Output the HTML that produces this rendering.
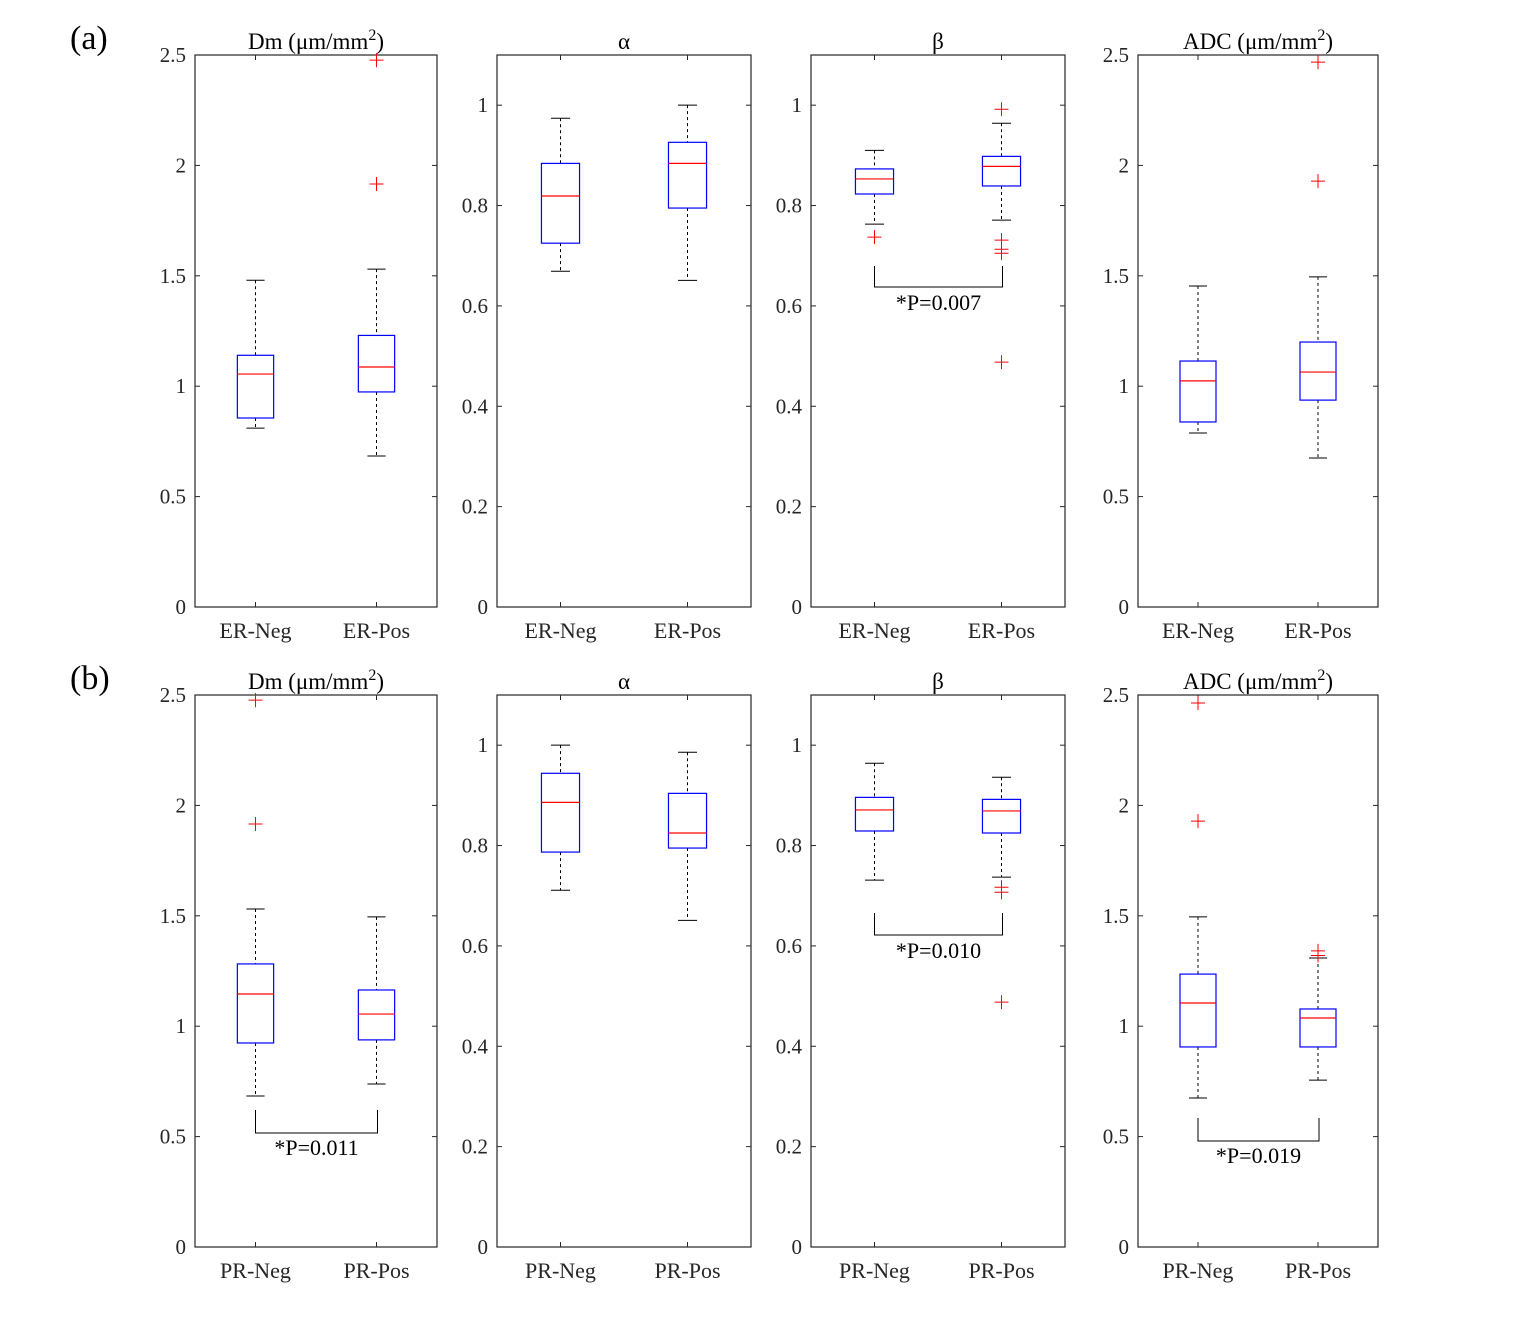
<!DOCTYPE html>
<html><head><meta charset="utf-8"><style>
html,body{margin:0;padding:0;background:#fff;}
svg{display:block;font-family:"Liberation Serif",serif;}
</style></head><body>
<svg id="fig" width="1525" height="1322" viewBox="0 0 1525 1322">
<text x="70" y="49" font-size="34">(a)</text>
<text x="70" y="689" font-size="34">(b)</text>
</svg>
<script>
// Data arrays: [whiskerLow, q1, median, q3, whiskerHigh]
const rowA_cats = ["ER-Neg","ER-Pos"];
const rowB_cats = ["PR-Neg","PR-Pos"];
const titles = ["Dm","α","β","ADC"];
const dmTicks = [0,0.5,1,1.5,2,2.5];
const abTicks = [0,0.2,0.4,0.6,0.8,1];
const a_dm = [[0.81,0.856,1.055,1.14,1.48],[0.684,0.974,1.087,1.23,1.53]];
const a_dm_out = [[],[1.916,2.477]];
const a_alpha = [[0.669,0.725,0.819,0.884,0.974],[0.651,0.795,0.884,0.926,1.0]];
const a_alpha_out = [[],[]];
const a_beta = [[0.763,0.823,0.853,0.873,0.910],[0.771,0.839,0.878,0.898,0.964]];
const a_beta_out = [[0.737],[0.992,0.731,0.713,0.705,0.488]];
const a_adc = [[0.788,0.838,1.024,1.114,1.454],[0.675,0.937,1.064,1.2,1.495]];
const a_adc_out = [[],[1.929,2.468]];
const b_dm = [[0.684,0.924,1.146,1.282,1.531],[0.738,0.938,1.055,1.164,1.495]];
const b_dm_out = [[1.916,2.477],[]];
const b_alpha = [[0.711,0.787,0.886,0.944,1.0],[0.651,0.795,0.825,0.904,0.986]];
const b_alpha_out = [[],[]];
const b_beta = [[0.731,0.829,0.871,0.896,0.964],[0.737,0.825,0.869,0.892,0.936]];
const b_beta_out = [[],[0.717,0.707,0.488]];
const b_adc = [[0.675,0.906,1.105,1.236,1.495],[0.756,0.906,1.037,1.078,1.309]];
const b_adc_out = [[1.929,2.464],[1.341,1.32]];
const pvals = {a2:"*P=0.007", b0:"*P=0.011", b2:"*P=0.010", b3:"*P=0.019"};

const svg = document.getElementById('fig');
const NS = "http://www.w3.org/2000/svg";
function el(tag, attrs, parent){const e=document.createElementNS(NS,tag);for(const k in attrs)e.setAttribute(k,attrs[k]);(parent||svg).appendChild(e);return e;}

const panelsX = [[195,437],[497,751],[811,1065],[1138,1378]];
const rowsY = [[55,607],[695,1247]];
const rowsData = [[a_dm,a_alpha,a_beta,a_adc],[b_dm,b_alpha,b_beta,b_adc]];
const rowsOut = [[a_dm_out,a_alpha_out,a_beta_out,a_adc_out],[b_dm_out,b_alpha_out,b_beta_out,b_adc_out]];
const rowsCats = [rowA_cats,rowB_cats];

for(let r=0;r<2;r++){
  for(let p=0;p<4;p++){
    const [x0,x1]=panelsX[p],[y0,y1]=rowsY[r];
    const ymax = (p==0||p==3)?2.5:1.1;
    const ticks = (p==0||p==3)?dmTicks:abTicks;
    const ys = v=>y1-(y1-y0)*v/ymax;
    const xs = c=>x0+(x1-x0)*(c+0.5)/2;
    const g = el('g',{});
    
    
    const frame=el('rect',{x:x0,y:y0,width:x1-x0,height:y1-y0,fill:'none',stroke:'#262626','stroke-width':1.2},g);
    
    
    ticks.forEach(t=>{
      const y=ys(t);
      el('line',{x1:x0,x2:x0+5,y1:y,y2:y,stroke:'#262626'},g);
      el('line',{x1:x1,x2:x1-5,y1:y,y2:y,stroke:'#262626'},g);
      const tl=el('text',{x:x0-9,y:y+7,'font-size':21,'text-anchor':'end',fill:'#262626'},g);
      tl.textContent=String(t);
      
      
    });
    const tt=el('text',{x:(x0+x1)/2,y:y0-6,'font-size':23,'text-anchor':'middle',fill:'#000'},g);
    
    
    if(p==0||p==3){
      tt.innerHTML=titles[p]+' (μm/mm<tspan dy="-9" font-size="16">2</tspan><tspan dy="9">)</tspan>';
    } else tt.textContent=titles[p];
    const data=rowsData[r][p], outs=rowsOut[r][p];
    for(let c=0;c<2;c++){
      const cx=xs(c);
      el('line',{x1:cx,x2:cx,y1:y1,y2:y1-5,stroke:'#262626'},g);
      el('line',{x1:cx,x2:cx,y1:y0,y2:y0+5,stroke:'#262626'},g);
      const cl=el('text',{x:cx,y:y1+31,'font-size':22,'text-anchor':'middle',fill:'#262626'},g);
      cl.textContent=rowsCats[r][c];
      
      
      const [lo,q1,md,q3,hi]=data[c];
      const hw=(x1-x0)/2*0.15, cw=hw/2;
      el('line',{x1:cx,x2:cx,y1:ys(hi),y2:ys(q3),stroke:'#000','stroke-dasharray':'3,3'},g);
      el('line',{x1:cx,x2:cx,y1:ys(q1),y2:ys(lo),stroke:'#000','stroke-dasharray':'3,3'},g);
      el('line',{x1:cx-cw,x2:cx+cw,y1:ys(hi),y2:ys(hi),stroke:'#000'},g);
      el('line',{x1:cx-cw,x2:cx+cw,y1:ys(lo),y2:ys(lo),stroke:'#000'},g);
      const box=el('rect',{x:cx-hw,y:ys(q3),width:2*hw,height:ys(q1)-ys(q3),fill:'none',stroke:'#0000ff','stroke-width':1.2},g);
      
      
      el('line',{x1:cx-hw,x2:cx+hw,y1:ys(md),y2:ys(md),stroke:'#ff0000','stroke-width':1.2},g);
      outs[c].forEach(v=>{
        const oy=ys(v);
        const o=el('path',{d:`M${cx-7},${oy}H${cx+7}M${cx},${oy-7}V${oy+7}`,stroke:'#ff0000','stroke-width':1},g);
        
        
      });
    }
    const key=(r?'b':'a')+p;
    if(pvals[key]){
      const dy = r==0&&p==2 ? [266,287,303] : (r==1&&p==0?[1110,1133,1148]:(r==1&&p==2?[913,935,951]:[1118,1141,1156]));
      const bx0=xs(0), bx1=xs(1)+1;
      const br=el('path',{d:`M${bx0},${dy[0]}V${dy[1]}H${bx1}V${dy[0]}`,fill:'none',stroke:'#000'},g);
      
      
      const pt=el('text',{x:(bx0+bx1)/2,y:dy[2]+7,'font-size':22,'text-anchor':'middle'},g);
      pt.textContent=pvals[key];
      
      
    }
  }
}
</script>
</body></html>
